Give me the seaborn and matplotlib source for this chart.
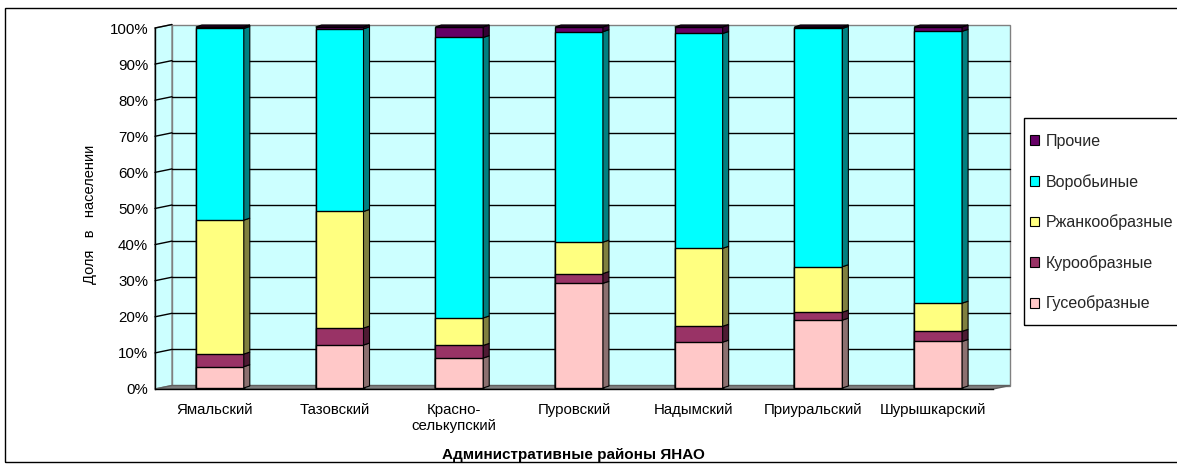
import numpy as np
import matplotlib
matplotlib.use("Agg")
import matplotlib.pyplot as plt
import seaborn as sns
from matplotlib.patches import Polygon, Rectangle, Patch
from matplotlib.transforms import ScaledTranslation

# Доли отрядов птиц в населении по районам ЯНАО, %
districts = ["Ямальский", "Тазовский", "Красно-\nселькупский", "Пуровский",
             "Надымский", "Приуральский", "Шурышкарский"]
series_names = ["Гусеобразные", "Курообразные", "Ржанкообразные", "Воробьиные", "Прочие"]
goose = [5.9, 11.9, 8.3, 29.0, 12.7, 18.8, 12.9]
galli = [3.5, 4.7, 3.5, 2.7, 4.4, 2.2, 2.8]
charadrii = [37.1, 32.3, 7.6, 8.7, 21.6, 12.6, 7.8]
passeri = [53.1, 50.6, 77.7, 58.3, 59.5, 66.0, 75.3]
other = [0.4, 0.5, 2.9, 1.3, 1.8, 0.4, 1.2]
y_ticks = list(range(0, 101, 10))

face_colors = ["#FFC8C8", "#993366", "#FFFF80", "#00FFFF", "#660066"]
side_colors = ["#8C7070", "#4D1A33", "#80803F", "#008080", "#330033"]
wall_color = "#CCFFFF"

sns.set_style("white")
plt.rcParams["font.family"] = ["Liberation Sans", "DejaVu Sans"]

W, H, DPI = 1177, 468, 100
fig = plt.figure(figsize=(W / DPI, H / DPI), dpi=DPI)
ax = fig.add_axes([155 / W, 79 / H, 838 / W, 361 / H])
ax.patch.set_visible(False)

values = np.vstack([goose, galli, charadrii, passeri, other])
cum = np.cumsum(values, axis=0)

# stacked bars: tallest cumulative total first, each lower level on top of it
for k in reversed(range(len(series_names))):
    sns.barplot(x=districts, y=cum[k], color=face_colors[k], saturation=1,
                width=0.4, edgecolor="black", linewidth=1, errorbar=None,
                ax=ax, zorder=3)

ax.set_xlim(-0.5, len(districts) - 0.5)
ax.set_ylim(0, 100)

# pixel scale of the data axes
ppx = 838 / len(districts)
ppy = 361 / 100

# bars sit a little behind the front plane
bar_tr = ax.transData + ScaledTranslation(5 / DPI, 1 / DPI, fig.dpi_scale_trans)
for p in ax.patches:
    p.set_transform(bar_tr)
    p.set_clip_on(False)

# side and top faces of the bars
sdx, sdy = 6 / ppx, 2 / ppy
top_bars = ax.containers[0].patches
for i, bar in enumerate(top_bars):
    x0 = bar.get_x()
    xr = x0 + bar.get_width()
    for k in range(len(series_names)):
        b = 0 if k == 0 else cum[k - 1][i]
        t = cum[k][i]
        ax.add_patch(Polygon([(xr, b), (xr + sdx, b + sdy), (xr + sdx, t + sdy), (xr, t)],
                             closed=True, facecolor=side_colors[k], edgecolor="black",
                             linewidth=0.8, transform=bar_tr, zorder=3, clip_on=False))
    t = cum[-1][i]
    ax.add_patch(Polygon([(x0, t), (xr, t), (xr + sdx, t + sdy), (x0 + sdx, t + sdy)],
                         closed=True, facecolor=side_colors[-1], edgecolor="black",
                         linewidth=0.8, transform=bar_tr, zorder=3, clip_on=False))

# walls and floor
wdx, wdy = 17 / ppx, 3.5 / ppy
x_lo, x_hi = -0.5, len(districts) - 0.5
ax.add_patch(Rectangle((x_lo + wdx, wdy), x_hi - x_lo, 100, facecolor=wall_color,
                       edgecolor="#808080", linewidth=1, zorder=0, clip_on=False))
ax.add_patch(Polygon([(x_lo, 0), (x_lo + wdx, wdy), (x_lo + wdx, 100 + wdy), (x_lo, 100)],
                     closed=True, facecolor=wall_color, edgecolor="#808080",
                     linewidth=1, zorder=0, clip_on=False))
ax.add_patch(Polygon([(x_lo, 0), (x_hi, 0), (x_hi + wdx, wdy), (x_lo + wdx, wdy)],
                     closed=True, facecolor="#808080", edgecolor="#606060",
                     linewidth=1, zorder=1, clip_on=False))
for yv in y_ticks[1:]:
    if yv < 100:
        ax.plot([x_lo + wdx, x_hi + wdx], [yv + wdy, yv + wdy], color="black",
                linewidth=1, zorder=1, clip_on=False)
    ax.plot([x_lo, x_lo + wdx], [yv, yv + wdy], color="black", linewidth=1,
            zorder=1, clip_on=False)

# axes, ticks and labels
for side in ["top", "right"]:
    ax.spines[side].set_visible(False)
for side in ["left", "bottom"]:
    ax.spines[side].set_color("black")
    ax.spines[side].set_linewidth(1)
    ax.spines[side].set_zorder(2)

ax.set_yticks(y_ticks)
ax.set_yticklabels([f"{v}%" for v in y_ticks])
ax.tick_params(axis="y", length=3, width=1, direction="out", color="black",
               pad=2, labelsize=10.8, labelcolor="black")
ax.set_xticks(range(len(districts)))
ax.set_xticklabels(districts)
ax.set_xticks(np.arange(x_lo, x_hi + 0.01, 1), minor=True)
ax.tick_params(axis="x", which="major", length=0, pad=10, labelsize=10.8, labelcolor="black")
ax.tick_params(axis="x", which="minor", length=5, width=1, direction="out", color="black")
ax.set_xlabel("")
ax.set_ylabel("")

fig.text(90 / W, 1 - 214 / H, "Доля   в   населении", rotation=90, ha="center",
         va="center", fontsize=10.5, color="black")
fig.text(573 / W, 1 - 455 / H, "Административные районы ЯНАО", ha="center",
         va="center", fontsize=11, fontweight="bold", color="black")

# legend
handles = [Patch(facecolor=face_colors[k], edgecolor="black", linewidth=0.8)
           for k in reversed(range(len(series_names)))]
labels = [series_names[k] for k in reversed(range(len(series_names)))]
fig.legend(handles, labels, loc="upper left", bbox_to_anchor=(1030 / W, 1 - 134 / H),
           frameon=False, borderpad=0, borderaxespad=0, handlelength=0.56,
           handleheight=0.56, handletextpad=0.42, labelspacing=1.55, fontsize=11.5)
fig.add_artist(Rectangle((1024 / W, 1 - 325 / H), 0.2, 207 / H, transform=fig.transFigure,
                         fill=False, edgecolor="black", linewidth=1))

# outer chart frame
fig.add_artist(Rectangle((5 / W, 1 - 462 / H), (W + 10) / W, 454 / H,
                         transform=fig.transFigure, fill=False, edgecolor="black",
                         linewidth=1))

fig.savefig("out.png", dpi=DPI)
